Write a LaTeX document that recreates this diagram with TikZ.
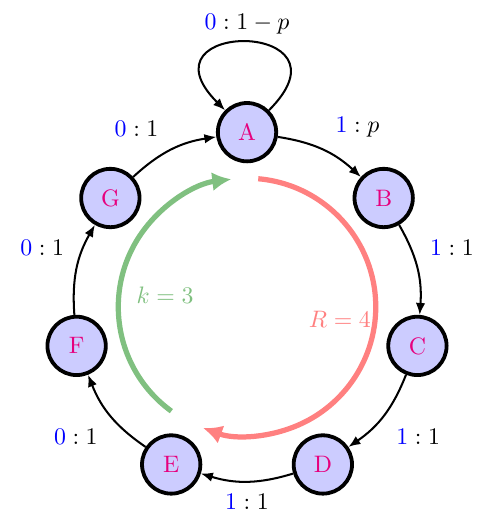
\documentclass[tikz,border=0pt]{standalone}
\usepackage{amsmath}
\usepackage{xcolor}
\usetikzlibrary{arrows.meta,positioning,calc}
\definecolor{StateFill}{HTML}{CCCCFF}
\definecolor{StateText}{HTML}{E6007E}
\definecolor{RateRed}{HTML}{FF8080}
\definecolor{RateGreen}{HTML}{80C080}

\begin{document}
\begin{tikzpicture}[
  state/.style={circle,draw=black,line width=1.6pt,fill=StateFill,text=StateText,minimum size=24.5pt,inner sep=0pt},
  trans/.style={draw=black,line width=0.85pt,-{Latex[length=5pt,width=4pt]}},
  lbl/.style={auto,font=\normalsize,inner sep=5pt}]
 \useasboundingbox (-3.646,-3.144) rectangle (3.616,4.531);
 % states round the ring
 \node[state] (A) at (90:2.58) {A};
 \node[state] (B) at (38.57:2.58) {B};
 \node[state] (C) at (-12.86:2.58) {C};
 \node[state] (D) at (-64.29:2.58) {D};
 \node[state] (E) at (-115.71:2.58) {E};
 \node[state] (F) at (192.86:2.58) {F};
 \node[state] (G) at (141.43:2.58) {G};
 % transitions
 \draw[trans] (A) to[bend left=17] node[lbl] {$\textcolor{blue}{1}:p$} (B);
 \draw[trans] (B) to[bend left=17] node[lbl] {$\textcolor{blue}{1}:1$} (C);
 \draw[trans] (C) to[bend left=17] node[lbl] {$\textcolor{blue}{1}:1$} (D);
 \draw[trans] (D) to[bend left=17] node[lbl] {$\textcolor{blue}{1}:1$} (E);
 \draw[trans] (E) to[bend left=17] node[lbl] {$\textcolor{blue}{0}:1$} (F);
 \draw[trans] (F) to[bend left=17] node[lbl] {$\textcolor{blue}{0}:1$} (G);
 \draw[trans] (G) to[bend left=17] node[lbl] {$\textcolor{blue}{0}:1$} (A);
 \draw[trans] (A) to[loop,out=45,in=135,looseness=7.5] node[above,inner sep=3pt] {$\textcolor{blue}{0}:1-p$} (A);
 % inner arcs
 \draw[RateRed,line width=2.2pt,-{Latex[length=8pt,width=8pt]}] (85:1.9) arc[start angle=85,end angle=-110,radius=1.9];
 \draw[RateGreen,line width=2.2pt,-{Latex[length=8pt,width=8pt]}] (234:1.9) arc[start angle=234,end angle=97,radius=1.9];
 \node[text=RateRed] (rlbl) at (1.37,-0.19) {$R=4$};
 \node[text=RateGreen] (klbl) at (-1.21,0.18) {$k=3$};
\end{tikzpicture}
\end{document}
